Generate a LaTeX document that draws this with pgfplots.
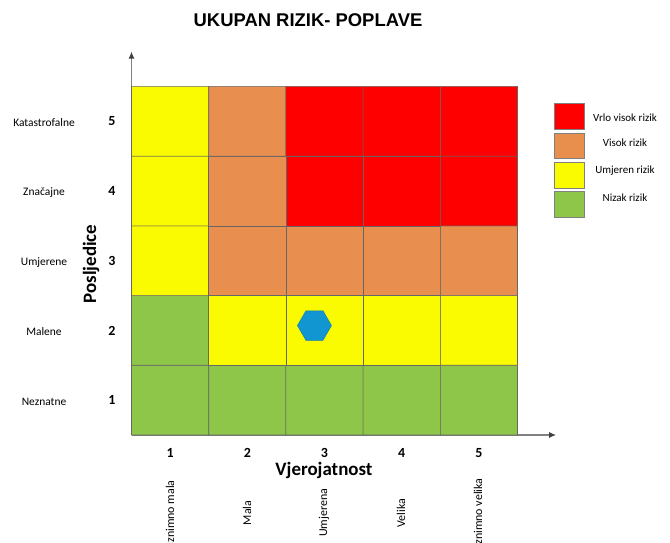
\documentclass[border=0pt]{standalone}
\usepackage{pgfplots}
\pgfplotsset{compat=1.18}
\usepackage{pgfplotstable}
\usepackage{fontspec}
\setmainfont{Carlito}
\newfontfamily\arialfont{Liberation Sans}
\usetikzlibrary{arrows.meta}
\definecolor{rRed}{RGB}{255,0,0}
\definecolor{rOrange}{RGB}{232,143,78}
\definecolor{rYellow}{RGB}{250,250,0}
\definecolor{rGreen}{RGB}{141,198,72}
\definecolor{hexBlue}{RGB}{17,150,210}
\definecolor{axisGray}{RGB}{128,128,128}

\pgfdeclareplotmark{hexagon*}{%
  \pgfpathmoveto{\pgfpointpolar{0}{\pgfplotmarksize}}%
  \pgfpathlineto{\pgfpointpolar{60}{\pgfplotmarksize}}%
  \pgfpathlineto{\pgfpointpolar{120}{\pgfplotmarksize}}%
  \pgfpathlineto{\pgfpointpolar{180}{\pgfplotmarksize}}%
  \pgfpathlineto{\pgfpointpolar{240}{\pgfplotmarksize}}%
  \pgfpathlineto{\pgfpointpolar{300}{\pgfplotmarksize}}%
  \pgfpathclose
  \pgfusepathqfillstroke}

% risk level: 1 = low (green), 2 = moderate (yellow), 3 = high (orange), 4 = very high (red)
\pgfplotstableread{
x y c
1 1 1
2 1 1
3 1 1
4 1 1
5 1 1
1 2 1
2 2 2
3 2 2
4 2 2
5 2 2
1 3 2
2 3 3
3 3 3
4 3 3
5 3 3
1 4 2
2 4 3
3 4 4
4 4 4
5 4 4
1 5 2
2 5 3
3 5 4
4 5 4
5 5 4
}\riskdata

\begin{document}
\begin{tikzpicture}[x=1bp,y=1bp]
\path[use as bounding box] (0,0) rectangle (670,543);
\node[font=\arialfont\bfseries\fontsize{18.5}{20}\selectfont] at (308,523) {UKUPAN RIZIK- POPLAVE};
\begin{axis}[
  at={(131.5bp,108bp)}, anchor=south west,
  scale only axis, width=424.6bp, height=383.4bp,
  xmin=0.5, xmax=6, ymin=0.5, ymax=6,
  axis lines=left,
  axis line style={draw=axisGray, line width=1.2bp, -{Latex[length=7bp,width=6bp,color=black!75]}},
  xtick={1,...,5}, ytick={1,...,5},
  major tick length=0,
  /pgf/number format/assume math mode=true,
  tick label style={font=\bfseries\fontsize{14}{14}\selectfont},
  xticklabel style={anchor=center, yshift=-18bp},
  yticklabel style={anchor=center, xshift=-19.5bp},
  colormap={risk}{rgb255=(141,198,72) rgb255=(250,250,0) rgb255=(232,143,78) rgb255=(255,0,0)},
  point meta min=1, point meta max=4,
  clip=false,
]
\addplot[matrix plot*, mesh/cols=5, point meta=explicit, draw=black!60, line width=0.6bp] table[x=x,y=y,meta=c]{\riskdata};
\addplot[only marks, mark=hexagon*, mark size=17bp, mark options={fill=hexBlue, draw=hexBlue!85!black, line width=0.5bp}] coordinates {(2.87,2.07)};
\end{axis}
% legend
\draw[draw=black!50, fill=rRed] (554,414) rectangle (584,440);
\draw[draw=black!50, fill=rOrange] (554,385) rectangle (584,410);
\draw[draw=black!50, fill=rYellow] (554,355) rectangle (584,381);
\draw[draw=black!50, fill=rGreen] (554,326) rectangle (584,352);
\begin{scope}[every node/.style={font=\fontsize{11}{12}\selectfont}]
\node at (625,425) {Vrlo visok rizik};
\node at (625,400) {Visok rizik};
\node at (625,372) {Umjeren rizik};
\node at (625,345) {Nizak rizik};
\end{scope}
% consequence names
\begin{scope}[every node/.style={font=\fontsize{11.5}{12}\selectfont}]
\node at (44,420) {Katastrofalne};
\node at (44,350.3) {Značajne};
\node at (44,280.3) {Umjerene};
\node at (44,211.3) {Malene};
\node at (44,141.3) {Neznatne};
\end{scope}
\node[rotate=90, font=\bfseries\fontsize{19}{20}\selectfont] at (91,279) {Posljedice};
\node[font=\bfseries\fontsize{19}{20}\selectfont] at (324,73) {Vjerojatnost};
% probability names
\begin{scope}[every node/.style={rotate=90, font=\fontsize{12}{13}\selectfont}]
\node at (170,30) {Iznimno mala};
\node at (247,30) {Mala};
\node at (324,30) {Umjerena};
\node at (401,30) {Velika};
\node at (478,30) {Iznimno velika};
\end{scope}
\end{tikzpicture}
\end{document}
